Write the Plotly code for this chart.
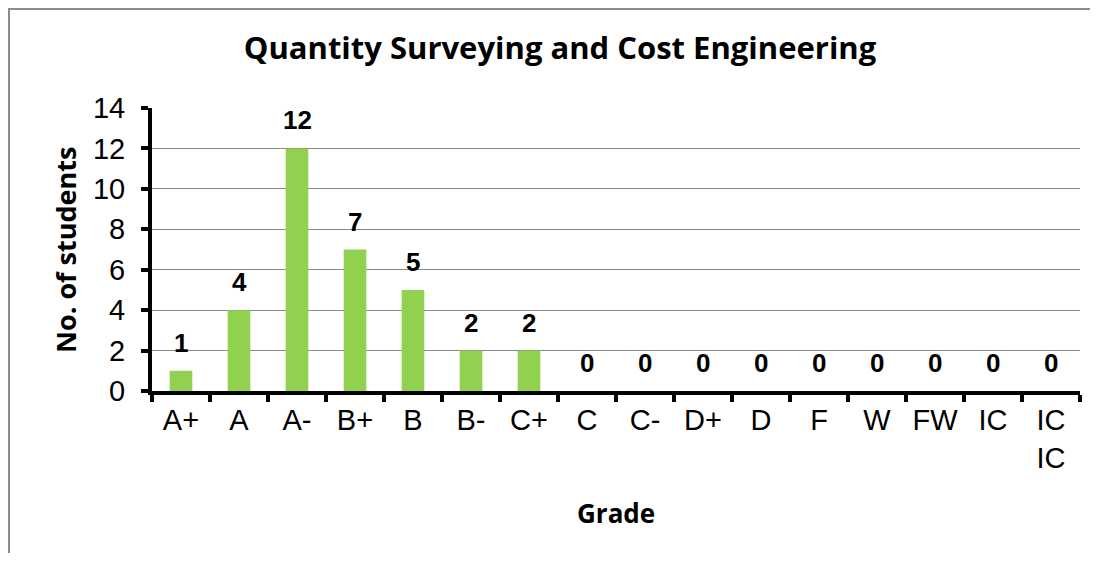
import plotly.graph_objects as go

grades = ["A+", "A", "A-", "B+", "B", "B-", "C+", "C", "C-", "D+", "D", "F", "W", "FW", "IC", "IC<br>IC"]
students = [1, 4, 12, 7, 5, 2, 2, 0, 0, 0, 0, 0, 0, 0, 0, 0]
y_ticks = [0, 2, 4, 6, 8, 10, 12, 14]

# page has an 8px body margin, so the figure is drawn 8px in from the top-left
W, H = 1090, 545
L, R, T, B = 144, 18, 100, 162
pw, ph = W - L - R, H - T - B

fig = go.Figure(go.Bar(
    x=grades, y=students,
    marker=dict(color="#92D050", line=dict(width=0)),
    width=0.39,
    hoverinfo="x+y",
))

# data labels
for g, v in zip(grades, students):
    fig.add_annotation(x=g, y=v, xref="x", yref="y", text=f"<b>{v}</b>",
                       showarrow=False, yanchor="bottom", yshift=11,
                       font=dict(family="Liberation Sans, Arial", size=26, color="black"))

fig.update_layout(
    width=W, height=H,
    margin=dict(l=L, r=R, t=T, b=B, autoexpand=False),
    paper_bgcolor="white", plot_bgcolor="white",
    showlegend=False,
    title=dict(text="<b>Quantity Surveying and Cost Engineering</b>",
               x=(552) / W, xanchor="center", y=1 - 40 / H, yanchor="middle",
               font=dict(family="Open Sans", size=31, color="black")),
    xaxis=dict(
        type="category", tickson="boundaries",
        showline=True, linecolor="black", linewidth=4,
        ticks="outside", ticklen=7, tickwidth=4, tickcolor="black",
        tickfont=dict(family="Liberation Sans, Arial", size=29, color="black"),
        showgrid=False,
    ),
    yaxis=dict(
        range=[0, 14], tickvals=y_ticks,
        showline=True, linecolor="black", linewidth=4,
        ticks="outside", ticklen=7, tickwidth=4, tickcolor="black",
        ticklabelstandoff=10,
        tickfont=dict(family="Liberation Sans, Arial", size=29, color="black"),
        showgrid=True, gridcolor="#8a8a8a", gridwidth=1.3,
        zeroline=False,
    ),
)

# axis titles
fig.add_annotation(x=0.5, y=(H - B - (513 - 8)) / ph, xref="paper", yref="paper",
                   text="<b>Grade</b>", showarrow=False, xanchor="center", yanchor="middle",
                   font=dict(family="Open Sans", size=26, color="black"))
fig.add_annotation(x=((65 - 8) - L) / pw, y=(H - B - (250 - 8)) / ph, xref="paper", yref="paper",
                   text="<b>No. of students</b>", showarrow=False, textangle=-90,
                   xanchor="center", yanchor="middle",
                   font=dict(family="Open Sans", size=27, color="black"))

# outer chart border
fig.add_shape(type="rect", xref="paper", yref="paper",
              x0=(1 - L) / pw, x1=(1300 - L) / pw,
              y0=(H - B - 700) / ph, y1=(H - B - 1) / ph,
              line=dict(color="#8c8c8c", width=2), fillcolor="rgba(0,0,0,0)", layer="below")

fig.write_html("out.html")
